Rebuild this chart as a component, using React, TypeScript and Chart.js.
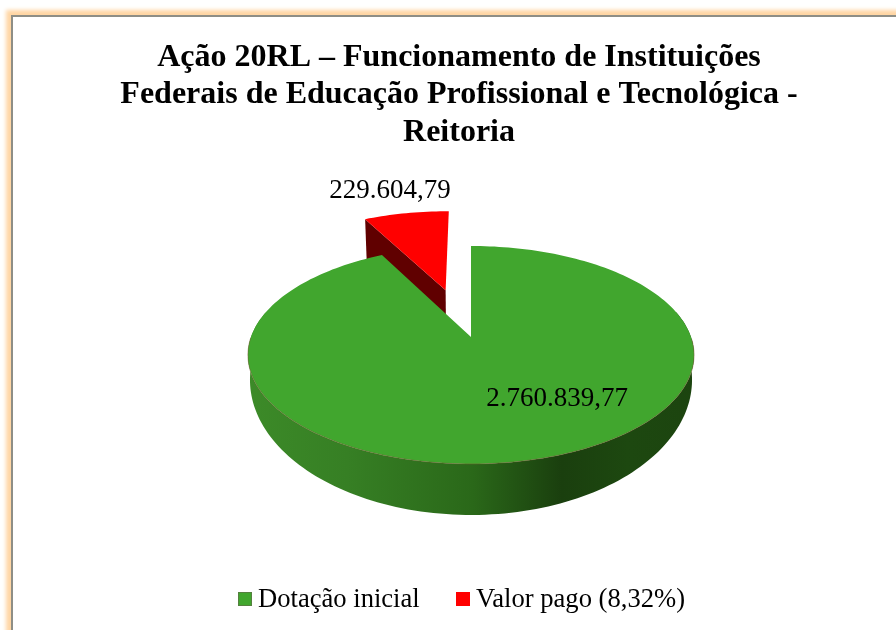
import React, { useEffect, useRef } from "react";
import { Chart } from "chart.js/auto";

const categories = ["Dotação inicial", "Valor pago (8,32%)"];
const seriesValues = [2760839.77, 229604.79];
const valueLabels = ["2.760.839,77", "229.604,79"];
const titleLines = [
  "Ação 20RL – Funcionamento de Instituições",
  "Federais de Educação Profissional e Tecnológica -",
  "Reitoria",
];
const sliceColors = ["#41a62e", "#ff0000"];
const sliceOffsets = [0, 98];

const SERIF = "'Liberation Serif', 'Times New Roman', serif";
const CANVAS_LEFT = 13;
const CANVAS_TOP = 17;
const CANVAS_W = 892;
const CANVAS_H = 613;
const PIE_RADIUS = 200;

// Perspective of the disc, in page pixels
const APEX_X = 471 - CANVAS_LEFT;
const APEX_Y = 337 - CANVAS_TOP;
const PERSPECTIVE = 0.165;
const TOP_A = 220;
const TOP_B = 106;
const WALL_A = 218;
const WALL_B = 131.4;
const WALL_Y = 357.6 - CANVAS_TOP;
const SLICE_A = 215.6;
const SLICE_B = 103.9;
const SLICE_Y = 390.5 - CANVAS_TOP;
const SLICE_SHIFT_X = -1.5;

type P = [number, number];

function projectTop(u: number, v: number): P {
  const d = 1 - PERSPECTIVE * v;
  return [APEX_X + (TOP_A * u) / d, APEX_Y + (TOP_B * v) / d];
}
function projectWall(u: number, v: number): P {
  const d = 1 - PERSPECTIVE * v;
  return [APEX_X + (WALL_A * u) / d, WALL_Y + (WALL_B * v) / d];
}
function projectSliceFoot(u: number, v: number): P {
  const d = 1 - PERSPECTIVE * v;
  return [APEX_X + (SLICE_A * u) / d, SLICE_Y + (SLICE_B * v) / d];
}

function pathOf(ctx: CanvasRenderingContext2D, pts: P[]) {
  ctx.beginPath();
  pts.forEach((p, i) => (i ? ctx.lineTo(p[0], p[1]) : ctx.moveTo(p[0], p[1])));
  ctx.closePath();
}

const pie3d = {
  id: "pie3d",
  beforeDatasetDraw(chart: any) {
    const ctx: CanvasRenderingContext2D = chart.ctx;
    const arcs = chart.getDatasetMeta(0).data;
    const order = arcs.map((_: any, i: number) => i).reverse();
    for (const i of order) {
      const el = arcs[i];
      const { startAngle, endAngle, outerRadius } = el.getProps(["startAngle", "endAngle", "outerRadius"], true);
      const off = (el.options.offset || 0) / outerRadius;
      const mid = (startAngle + endAngle) / 2;
      const ou = Math.cos(mid) * off;
      const ov = Math.sin(mid) * off;
      const steps = Math.max(8, Math.ceil((endAngle - startAngle) * 40));
      const angles: number[] = [];
      for (let s = 0; s <= steps; s++) angles.push(startAngle + ((endAngle - startAngle) * s) / steps);
      const shift = off > 0 ? SLICE_SHIFT_X : 0;
      const rimTop = (a: number): P => {
        const p = projectTop(ou + Math.cos(a), ov + Math.sin(a));
        return [p[0] + shift, p[1]];
      };
      const apex = projectTop(ou, ov);
      const top: P[] = [[apex[0] + shift, apex[1]], ...angles.map(rimTop)];

      if (off > 0) {
        // Exploded slice: the one wall that faces the viewer, along its left cut edge
        const foot = (u: number, v: number): P => {
          const p = projectSliceFoot(u, v);
          return [p[0] + shift, p[1]];
        };
        const a0 = angles[0];
        pathOf(ctx, [top[0], top[1], foot(ou + Math.cos(a0), ov + Math.sin(a0)), foot(ou, ov)]);
        ctx.fillStyle = "#600000";
        ctx.fill();
      } else {
        // Main slice: outer wall with horizontal shading
        const front = angles.filter((a) => Math.sin(a) > -0.25);
        const split = front.findIndex((a, idx) => idx > 0 && a - front[idx - 1] > 0.2);
        const run = split > 0 ? front.slice(0, split) : front;
        const g = ctx.createLinearGradient(250 - CANVAS_LEFT, 0, 695 - CANVAS_LEFT, 0);
        g.addColorStop(0, "#3c8a28");
        g.addColorStop(0.22, "#367f24");
        g.addColorStop(0.5, "#2a6819");
        g.addColorStop(0.7, "#1a3f0e");
        g.addColorStop(0.85, "#1d4810");
        g.addColorStop(1, "#1c440f");
        pathOf(ctx, [
          ...run.map(rimTop),
          ...run
            .slice()
            .reverse()
            .map((a) => projectWall(Math.cos(a), Math.sin(a))),
        ]);
        ctx.fillStyle = g;
        ctx.fill();
      }

      pathOf(ctx, top);
      ctx.fillStyle = el.options.backgroundColor;
      ctx.fill();

      if (off === 0) {
        ctx.beginPath();
        angles
          .filter((a) => Math.sin(a) > 0)
          .forEach((a, idx) => {
            const p = rimTop(a);
            idx ? ctx.lineTo(p[0], p[1]) : ctx.moveTo(p[0], p[1]);
          });
        ctx.strokeStyle = "rgba(120,85,50,0.6)";
        ctx.lineWidth = 0.8;
        ctx.stroke();
      }
    }
    return false;
  },
  afterDraw(chart: any) {
    const ctx: CanvasRenderingContext2D = chart.ctx;
    ctx.save();
    ctx.fillStyle = "#000";
    ctx.font = `27px ${SERIF}`;
    ctx.textBaseline = "alphabetic";

    // Value labels
    ctx.textAlign = "center";
    const labelAt: P[] = [
      [557 - CANVAS_LEFT, 406 - CANVAS_TOP],
      [390 - CANVAS_LEFT, 198 - CANVAS_TOP],
    ];
    valueLabels.forEach((t, i) => ctx.fillText(t, labelAt[i][0], labelAt[i][1]));

    // Legend
    ctx.font = `26.6px ${SERIF}`;
    ctx.textAlign = "left";
    const legendX = [238 - CANVAS_LEFT, 456 - CANVAS_LEFT];
    chart.data.labels.forEach((t: string, i: number) => {
      const x = legendX[i];
      const y = 592 - CANVAS_TOP;
      ctx.fillStyle = sliceColors[i];
      ctx.fillRect(x, y, 14, 14);
      if (i === 0) {
        ctx.strokeStyle = "#55803f";
        ctx.lineWidth = 1;
        ctx.strokeRect(x + 0.5, y + 0.5, 13, 13);
      }
      ctx.fillStyle = "#000";
      ctx.fillText(t, x + 20, 607 - CANVAS_TOP);
    });
    ctx.restore();
  },
};

export default function App() {
  const ref = useRef<HTMLCanvasElement>(null);
  useEffect(() => {
    document.body.style.margin = "0";
    const chart = new Chart(ref.current as HTMLCanvasElement, {
      type: "pie",
      data: {
        labels: categories,
        datasets: [
          {
            data: seriesValues,
            backgroundColor: sliceColors,
            borderWidth: 0,
            offset: sliceOffsets,
          },
        ],
      },
      options: {
        animation: false,
        responsive: false,
        events: [],
        radius: PIE_RADIUS,
        plugins: {
          legend: { display: false },
          tooltip: { enabled: false },
          title: {
            display: true,
            text: titleLines,
            color: "#000",
            align: "center",
            font: { family: SERIF, size: 32, weight: "bold", lineHeight: 1.17 },
            padding: { top: 22, bottom: 10 },
          },
        },
      },
      plugins: [pie3d],
    } as any);
    return () => chart.destroy();
  }, []);

  return (
    <div style={{ position: "fixed", left: 0, top: 0, width: 896, height: 630, overflow: "hidden", background: "#fff" }}>
      <div
        style={{
          position: "absolute",
          left: 11,
          top: 15,
          width: 1000,
          height: 1000,
          boxSizing: "border-box",
          border: "2px solid #8e8e86",
          boxShadow: "0 0 4px 5px #ffd6a4",
          background: "#fff",
        }}
      />
      <canvas
        ref={ref}
        width={CANVAS_W}
        height={CANVAS_H}
        style={{ position: "absolute", left: CANVAS_LEFT, top: CANVAS_TOP, display: "block" }}
      />
    </div>
  );
}
